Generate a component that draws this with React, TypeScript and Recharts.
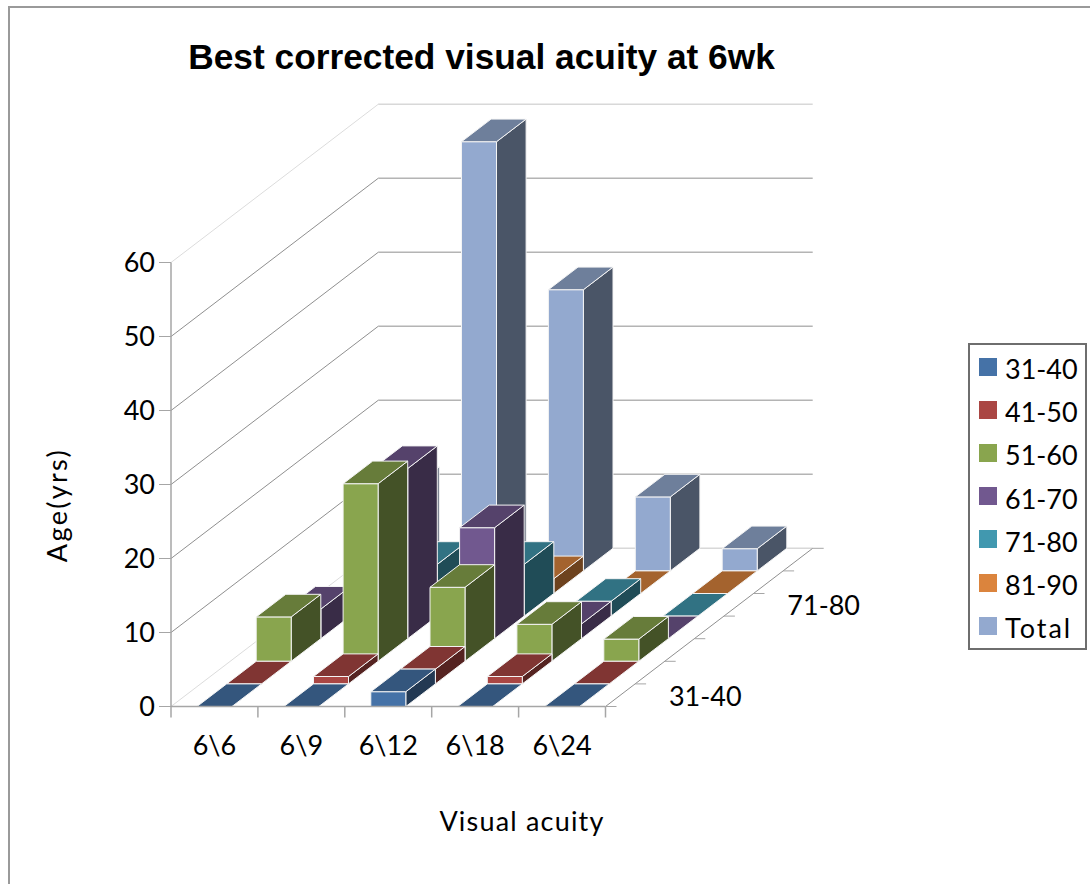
import React from 'react';
import { Bar, BarChart, CartesianGrid, Legend, XAxis, YAxis } from 'recharts';

const categories = ['6\\6', '6\\9', '6\\12', '6\\18', '6\\24'];
const seriesNames = ['31-40', '41-50', '51-60', '61-70', '71-80', '81-90', 'Total'];
const yTicks = [0, 10, 20, 30, 40, 50, 60];

const age31to40 = [0, 0, 2, 0, 0];
const age41to50 = [0, 1, 2, 1, 0];
const age51to60 = [6, 24, 10, 5, 3];
const age61to70 = [4, 23, 15, 2, 0];
const age71to80 = [1, 7, 7, 2, 0];
const age81to90 = [0, 3, 2, 0, 0];
const ageTotal = [11, 58, 38, 10, 3];
const seriesValues = [age31to40, age41to50, age51to60, age61to70, age71to80, age81to90, ageTotal];

// front, top and side face of each series
const frontColors = ['#4572a7', '#aa4643', '#89a54e', '#71588f', '#4198af', '#db843d', '#93a9cf'];
const topColors = ['#34567d', '#803533', '#677c3a', '#55426b', '#317283', '#a4632e', '#6e7f9b'];
const sideColors = ['#233953', '#552321', '#445227', '#392c47', '#204c57', '#6d421e', '#4a5567'];

const tableData = categories.map((category, c) => {
  const row: Record<string, string | number> = { category };
  seriesNames.forEach((name, s) => {
    row[name] = seriesValues[s][c];
  });
  return row;
});

const WIDTH = 1090;
const HEIGHT = 884;
const PLOT_LEFT = 171;
const PLOT_RIGHT = 605.5;
const PLOT_TOP = 262.5;
const PLOT_BOTTOM = 706.5;
const Y_AXIS_WIDTH = 70;
const X_AXIS_HEIGHT = 60;

// oblique projection: how far one row moves back
const ROW_DX = 29.6;
const ROW_DY = -22.6;
const ROWS = seriesNames.length;
const BACK_DX = ROW_DX * ROWS;
const BACK_DY = ROW_DY * ROWS;

const FONT = 'Lato, sans-serif';
const FONT_SIZE = 27;
const AXIS_GREY = '#a6a6a6';

type BoxProps = { x?: number; y?: number; width?: number; height?: number; row: number };

const Box3D = ({ x = 0, y = 0, width = 0, height = 0, row }: BoxProps) => {
  const left = x + row * ROW_DX;
  const right = left + width;
  const top = y + row * ROW_DY;
  const bottom = top + height;
  const edge = { stroke: '#f4f4f4', strokeWidth: 1, strokeLinejoin: 'round' as const };
  return (
    <g>
      {height > 0 && (
        <polygon
          points={`${right},${top} ${right + ROW_DX},${top + ROW_DY} ${right + ROW_DX},${bottom + ROW_DY} ${right},${bottom}`}
          fill={sideColors[row]}
          {...edge}
        />
      )}
      {height > 0 && (
        <rect x={left} y={top} width={width} height={height} fill={frontColors[row]} {...edge} />
      )}
      <polygon
        points={`${left},${top} ${right},${top} ${right + ROW_DX},${top + ROW_DY} ${left + ROW_DX},${top + ROW_DY}`}
        fill={topColors[row]}
        {...edge}
      />
    </g>
  );
};

// each gridline runs up the side wall and then along the back wall
const WallLine = ({ x1, y1, x2 }: { x1: number; y1: number; x2: number }) => {
  const faint = y1 <= PLOT_TOP + 1 || y1 >= PLOT_BOTTOM - 1;
  return (
    <g fill="none">
      <line
        x1={x1}
        y1={y1}
        x2={x1 + BACK_DX}
        y2={y1 + BACK_DY}
        stroke={faint ? '#dcdcdc' : '#8f8f8f'}
        strokeWidth={1}
      />
      <line
        x1={x1 + BACK_DX}
        y1={y1 + BACK_DY}
        x2={x2 + BACK_DX}
        y2={y1 + BACK_DY}
        stroke={faint ? '#d8d8d8' : '#b4b4b4'}
        strokeWidth={1.5}
      />
    </g>
  );
};

const CategoryTick = ({ x, payload, index }: any) => {
  const band = (PLOT_RIGHT - PLOT_LEFT) / categories.length;
  const lineX = x - band / 2;
  return (
    <g>
      <line x1={lineX} y1={PLOT_BOTTOM} x2={lineX} y2={PLOT_BOTTOM + 11} stroke={AXIS_GREY} strokeWidth={1.5} />
      {index === categories.length - 1 && (
        <line x1={lineX + band} y1={PLOT_BOTTOM} x2={lineX + band} y2={PLOT_BOTTOM + 11} stroke={AXIS_GREY} strokeWidth={1.5} />
      )}
      <text x={x} y={PLOT_BOTTOM + 48} textAnchor="middle" fontSize={FONT_SIZE} fill="#000" fontFamily={FONT}>
        {payload.value}
      </text>
    </g>
  );
};

const DepthAxis = () => (
  <g>
    <line
      x1={PLOT_RIGHT}
      y1={PLOT_BOTTOM}
      x2={PLOT_RIGHT + BACK_DX}
      y2={PLOT_BOTTOM + BACK_DY}
      stroke="#8f8f8f"
      strokeWidth={1}
    />
    {Array.from({ length: ROWS + 1 }, (_, r) => (
      <line
        key={r}
        x1={PLOT_RIGHT + r * ROW_DX}
        y1={PLOT_BOTTOM + r * ROW_DY}
        x2={PLOT_RIGHT + r * ROW_DX + 11}
        y2={PLOT_BOTTOM + r * ROW_DY}
        stroke={AXIS_GREY}
      />
    ))}
    {seriesNames.map((name, r) =>
      r % 4 === 0 ? (
        <text
          key={name}
          x={PLOT_RIGHT + (r + 0.5) * ROW_DX + 85}
          y={PLOT_BOTTOM + (r + 0.5) * ROW_DY + 0}
          textAnchor="middle"
          dominantBaseline="central"
          fontSize={FONT_SIZE}
          fill="#000"
          fontFamily={FONT}
        >
          {name}
        </text>
      ) : null,
    )}
  </g>
);

const AgeLegend = () => (
  <div
    style={{
      boxSizing: 'border-box',
      width: 119,
      height: 307,
      border: '2px solid #6e6e6e',
      background: '#fff',
      padding: '0 0 0 9px',
      fontFamily: FONT,
      fontSize: FONT_SIZE,
      color: '#000',
    }}
  >
    {seriesNames.map((name, s) => (
      <div key={name} style={{ display: 'flex', alignItems: 'center', height: 43.2 }}>
        <span style={{ width: 18, height: 18, background: frontColors[s], marginRight: 8 }} />
        <span style={{ position: 'relative', top: 2, letterSpacing: name === 'Total' ? 2 : 0 }}>{name}</span>
      </div>
    ))}
  </div>
);

const App = () => {
  // rear rows are painted first so the nearer boxes cover them
  const rowsBackToFront = seriesNames.map((_, r) => ROWS - 1 - r);
  return (
    <div style={{ position: 'absolute', left: 0, top: 0, width: WIDTH, height: HEIGHT, overflow: 'hidden', background: '#fff' }}>
      <div style={{ position: 'absolute', left: 8, top: 6, width: WIDTH, height: HEIGHT, border: '2px solid #9a9a9a' }} />
      <BarChart
        width={WIDTH}
        height={HEIGHT}
        data={tableData}
        margin={{
          left: PLOT_LEFT - Y_AXIS_WIDTH,
          right: WIDTH - PLOT_RIGHT,
          top: PLOT_TOP,
          bottom: HEIGHT - PLOT_BOTTOM - X_AXIS_HEIGHT,
        }}
      >
        <CartesianGrid
          xAxisId="row0"
          vertical={false}
          horizontal={(p: any) => <WallLine key={p.key} x1={p.x1} y1={p.y1} x2={p.x2} />}
        />
        {seriesNames.map((_, r) => (
          <XAxis
            key={r}
            xAxisId={`row${r}`}
            dataKey="category"
            hide={r > 0}
            height={X_AXIS_HEIGHT}
            interval={0}
            tickLine={false}
            axisLine={{ stroke: AXIS_GREY, strokeWidth: 1.5 }}
            tick={<CategoryTick />}
          />
        ))}
        <YAxis
          width={Y_AXIS_WIDTH}
          domain={[0, 60]}
          ticks={yTicks}
          interval={0}
          tickSize={12}
          tickMargin={4}
          axisLine={{ stroke: AXIS_GREY, strokeWidth: 1.5 }}
          tickLine={{ stroke: AXIS_GREY }}
          tick={{ fontSize: FONT_SIZE, fill: '#000', fontFamily: FONT }}
        />
        {rowsBackToFront.map((r) => (
          <Bar
            key={seriesNames[r]}
            xAxisId={`row${r}`}
            dataKey={seriesNames[r]}
            barSize={35}
            fill={frontColors[r]}
            isAnimationActive={false}
            shape={(props: any) => <Box3D {...props} row={r} />}
          />
        ))}
        <Legend
          layout="horizontal"
          verticalAlign="middle"
          content={<AgeLegend />}
          wrapperStyle={{ left: 968, top: 343, width: 119 }}
        />
        <DepthAxis />
        <text x={481.5} y={69} textAnchor="middle" fontSize={35.3} fontWeight="bold" fill="#000" fontFamily="'Liberation Sans', Arial, sans-serif">
          Best corrected visual acuity at 6wk
        </text>
        <text
          x={67}
          y={505}
          textAnchor="middle"
          fontSize={FONT_SIZE}
          letterSpacing={2.4}
          fill="#000"
          fontFamily={FONT}
          transform="rotate(-90 67 505)"
        >
          Age(yrs)
        </text>
        <text x={522} y={831} textAnchor="middle" fontSize={FONT_SIZE} letterSpacing={1.2} fill="#000" fontFamily={FONT}>
          Visual acuity
        </text>
      </BarChart>
    </div>
  );
};

export default App;
